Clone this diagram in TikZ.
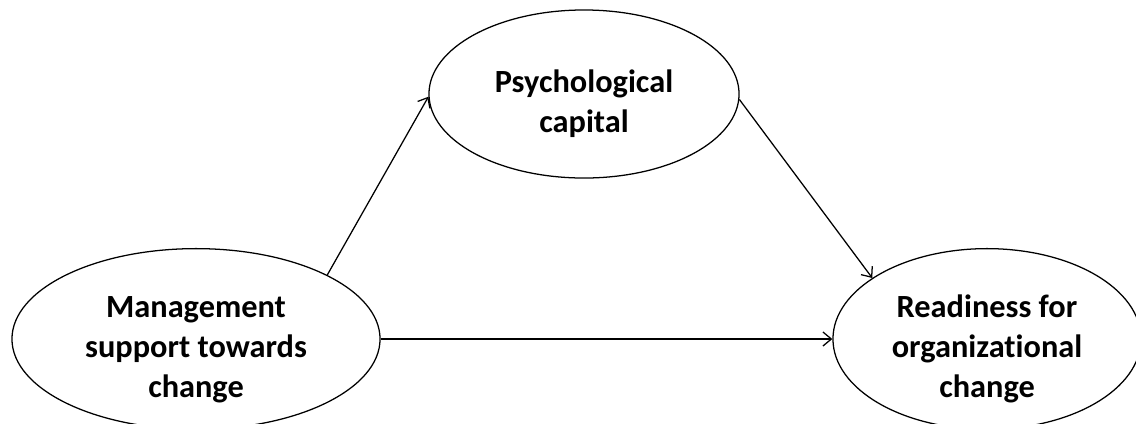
\documentclass[tikz,border=0pt]{standalone}
\usepackage{fontspec}
\setmainfont{Carlito}[Ligatures=NoCommon]
\usetikzlibrary{shapes.geometric}
\usetikzlibrary{arrows.meta}
\tikzset{>={Straight Barb[length=6pt,width=10pt]}}
\tikzset{var/.style={draw, ellipse, line width=0.9pt, inner sep=0pt, align=center,
  font=\fontsize{23}{28.5}\selectfont\bfseries}}

\begin{document}
\begin{tikzpicture}[x=0.025cm, y=-0.025cm, line width=0.9pt]
  \useasboundingbox (0,0) rectangle (1136,423);

  % Variables
  \node[var, minimum width=9.2cm, minimum height=4.15cm] (mgmt) at (196,339)
    {\rule{0pt}{30pt}Management\\support towards\\change};
  \node[var, minimum width=7.75cm, minimum height=4.2cm] (psy) at (584,94)
    {\rule{0pt}{30pt}Psychological\\capital};
  \node[var, minimum width=7.7cm, minimum height=4.15cm] (ready) at (987,339)
    {\rule{0pt}{30pt}Readiness for\\organizational\\change};

  % Paths
  \draw[->] (mgmt.26) -- (psy.181);
  \draw[->] (psy.-2) -- (ready.152);
  \draw[->] (mgmt.east) -- (ready.west);

\end{tikzpicture}
\end{document}
